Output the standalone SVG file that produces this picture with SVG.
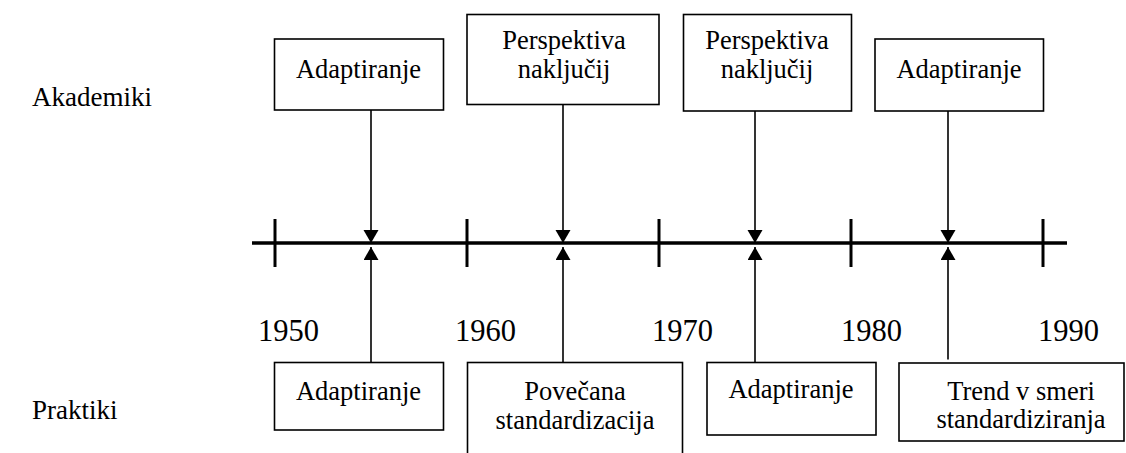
<svg xmlns="http://www.w3.org/2000/svg" width="1126" height="453" viewBox="0 0 1126 453">
  <style>
    .box { fill: #fff; stroke: #000; stroke-width: 1.6; }
    .t { font-family: "Liberation Serif", "Times New Roman", serif; font-size: 26.5px; fill: #000; text-anchor: middle; }
    .lbl { font-family: "Liberation Serif", "Times New Roman", serif; font-size: 27px; fill: #000; }
    .yr { font-family: "Liberation Serif", "Times New Roman", serif; font-size: 30.5px; fill: #000; }
    .conn { stroke: #000; stroke-width: 1.6; fill: none; }
    .axis { stroke: #000; stroke-width: 3.5; }
    .tick { stroke: #000; stroke-width: 3; }
  </style>
  <defs>
    <marker id="ah" markerUnits="userSpaceOnUse" markerWidth="14" markerHeight="16" refX="13" refY="7.5" orient="auto">
      <path d="M0,0 L13,7.5 L0,15 z" fill="#000"/>
    </marker>
  </defs>
  <rect width="1126" height="453" fill="#fff"/>

  <!-- row labels -->
  <text class="lbl" x="32" y="106">Akademiki</text>
  <text class="lbl" x="32" y="419">Praktiki</text>

  <!-- timeline axis -->
  <g id="timeline">
    <line class="axis" x1="252" y1="243" x2="1067" y2="243"/>
    <line class="tick" x1="275" y1="219" x2="275" y2="267"/>
    <line class="tick" x1="467" y1="219" x2="467" y2="267"/>
    <line class="tick" x1="659" y1="219" x2="659" y2="267"/>
    <line class="tick" x1="851" y1="219" x2="851" y2="267"/>
    <line class="tick" x1="1043" y1="219" x2="1043" y2="267"/>
    <text class="yr" x="258" y="341">1950</text>
    <text class="yr" x="455" y="341">1960</text>
    <text class="yr" x="652" y="341">1970</text>
    <text class="yr" x="841" y="341">1980</text>
    <text class="yr" x="1038" y="341">1990</text>
  </g>

  <!-- top nodes -->
  <g id="a1">
    <rect class="box" x="274.5" y="39" width="169" height="71"/>
    <text class="t" x="358.5" y="78">Adaptiranje</text>
  </g>
  <g id="a2">
    <rect class="box" x="467" y="14.5" width="192" height="90"/>
    <text class="t" x="564" y="49">Perspektiva</text>
    <text class="t" x="564" y="78">naključij</text>
  </g>
  <g id="a3">
    <rect class="box" x="683.5" y="14.5" width="168" height="96.5"/>
    <text class="t" x="767" y="49">Perspektiva</text>
    <text class="t" x="767" y="77.5">naključij</text>
  </g>
  <g id="a4">
    <rect class="box" x="875" y="39" width="168.5" height="72"/>
    <text class="t" x="959" y="78">Adaptiranje</text>
  </g>

  <!-- bottom nodes -->
  <g id="p1">
    <rect class="box" x="274.5" y="362.5" width="169" height="67.5"/>
    <text class="t" x="358.5" y="400">Adaptiranje</text>
  </g>
  <g id="p2">
    <rect class="box" x="467.5" y="362.5" width="215" height="100"/>
    <text class="t" x="575" y="399.5">Povečana</text>
    <text class="t" x="575" y="429">standardizacija</text>
  </g>
  <g id="p3">
    <rect class="box" x="707" y="362.5" width="169" height="72.5"/>
    <text class="t" x="791" y="398">Adaptiranje</text>
  </g>
  <g id="p4">
    <rect class="box" x="899" y="363" width="225" height="78"/>
    <text class="t" x="1021" y="399.5">Trend v smeri</text>
    <text class="t" x="1021" y="428">standardiziranja</text>
  </g>

  <!-- connectors -->
  <g id="connectors">
    <line class="conn" x1="371" y1="110" x2="371" y2="243" marker-end="url(#ah)"/>
    <line class="conn" x1="563" y1="104.5" x2="563" y2="243" marker-end="url(#ah)"/>
    <line class="conn" x1="755" y1="111" x2="755" y2="243" marker-end="url(#ah)"/>
    <line class="conn" x1="948" y1="111" x2="948" y2="243" marker-end="url(#ah)"/>
    <line class="conn" x1="371" y1="362.5" x2="371" y2="247" marker-end="url(#ah)"/>
    <line class="conn" x1="563" y1="362.5" x2="563" y2="247" marker-end="url(#ah)"/>
    <line class="conn" x1="755" y1="362.5" x2="755" y2="247" marker-end="url(#ah)"/>
    <line class="conn" x1="948" y1="359.5" x2="948" y2="247" marker-end="url(#ah)"/>
  </g>
</svg>
